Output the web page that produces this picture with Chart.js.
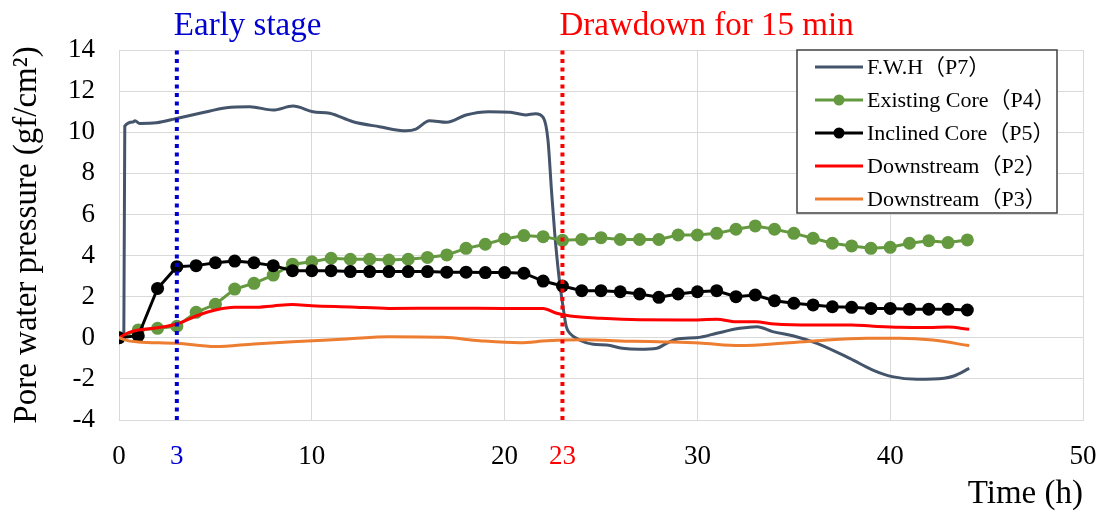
<!DOCTYPE html>
<html>
<head>
<meta charset="utf-8">
<script src="https://cdn.jsdelivr.net/npm/chart.js@4/dist/chart.umd.min.js"></script>
<style>
  html, body { margin: 0; padding: 0; background: #ffffff; }
  canvas { display: block; }
</style>
</head>
<body>
<canvas id="chart" width="1103" height="512"></canvas>
<script>
// Hourly piezometer readings in the cores (marker series)
const hours = [0, 1, 2, 3, 4, 5, 6, 7, 8, 9, 10, 11, 12, 13, 14, 15, 16, 17, 18, 19, 20, 21, 22,
  23, 24, 25, 26, 27, 28, 29, 30, 31, 32, 33, 34, 35, 36, 37, 38, 39, 40, 41, 42, 43, 44];
const existingCore = [0, 0.38, 0.46, 0.56, 1.24, 1.63, 2.37, 2.65, 3.05, 3.58, 3.7, 3.87, 3.82, 3.82, 3.78,
  3.82, 3.91, 4.03, 4.35, 4.55, 4.81, 4.97, 4.92, 4.74, 4.78, 4.87, 4.78, 4.78, 4.78, 5.0, 5.0, 5.08,
  5.28, 5.44, 5.28, 5.08, 4.84, 4.6, 4.47, 4.35, 4.4, 4.6, 4.72, 4.63, 4.76];
const inclinedCore = [0, 0.1, 2.4, 3.46, 3.51, 3.65, 3.73, 3.65, 3.51, 3.26, 3.26, 3.26, 3.22, 3.22, 3.22,
  3.22, 3.22, 3.19, 3.19, 3.17, 3.17, 3.14, 2.76, 2.52, 2.29, 2.29, 2.24, 2.13, 1.97, 2.13, 2.24, 2.29,
  2.0, 2.08, 1.8, 1.68, 1.6, 1.51, 1.48, 1.43, 1.43, 1.39, 1.39, 1.39, 1.35];

// Continuous logger traces: time (h) and pore water pressure (gf/cm²)
const fwhTime = [0, 0.25, 0.3, 0.73, 0.83, 1.07, 1.94, 2.98, 4.19, 5.57, 6.78, 7.99, 9.02, 10.06, 10.93,
  12.14, 13.5, 14.9, 15.4, 16.1, 17.0, 18.0, 19.2, 20.3, 21.1, 21.6, 22.0, 22.25, 22.43, 22.6, 22.82,
  23.03, 23.2, 23.4, 23.9, 24.6, 25.3, 26.1, 27.0, 27.9, 28.4, 28.9, 30.1, 31.0, 32.2, 33.1, 33.9,
  35.0, 36.2, 37.9, 39.1, 40.1, 41.4, 42.8, 43.3, 44.1];
const fwhValues = [0, 0.05, 10.3, 10.5, 10.56, 10.43, 10.46, 10.67, 10.92, 11.19, 11.24, 11.08, 11.27,
  11.0, 10.92, 10.51, 10.27, 10.07, 10.15, 10.56, 10.48, 10.84, 11.0, 10.97, 10.84, 10.9, 10.72, 9.62,
  7.19, 5.08, 2.97, 1.51, 0.54, 0.2, -0.11, -0.32, -0.35, -0.51, -0.56, -0.51, -0.27, -0.07, 0.02,
  0.22, 0.46, 0.54, 0.3, 0.09, -0.27, -1.0, -1.57, -1.89, -2.02, -1.97, -1.86, -1.49];

const p2Time = [0, 0.5, 1, 2, 3, 4, 5, 6, 7, 8, 9, 10, 12, 14, 17, 20, 22, 22.7, 23.4, 25, 27, 30, 31,
  32, 33, 34, 36, 38, 39, 40.5, 42, 43, 44.1];
const p2Values = [0, 0.25, 0.38, 0.49, 0.67, 1.06, 1.35, 1.48, 1.48, 1.55, 1.62, 1.56, 1.5, 1.43, 1.44,
  1.43, 1.42, 1.19, 1.06, 0.95, 0.88, 0.87, 0.9, 0.78, 0.78, 0.67, 0.62, 0.62, 0.57, 0.51, 0.5, 0.52, 0.41];

const p3Time = [0, 0.5, 1, 3, 5, 7, 9, 11.8, 14, 16.8, 18.7, 20.8, 22.2, 24, 26.7, 28.4, 30.1, 32.2,
  34.4, 36.2, 38.8, 40.5, 42.2, 44.1];
const p3Values = [0, -0.15, -0.2, -0.27, -0.43, -0.3, -0.19, -0.06, 0.05, 0.02, -0.14, -0.24, -0.15,
  -0.1, -0.17, -0.2, -0.25, -0.38, -0.27, -0.14, -0.02, -0.02, -0.11, -0.38];

const seriesNames = ['F.W.H（P7）', 'Existing Core（P4）', 'Inclined Core（P5）', 'Downstream（P2）', 'Downstream（P3）'];
const xTickValues = [0, 3, 10, 20, 23, 30, 40, 50];
const yTickRange = [-4, 14];
const yTickStep = 2;
const earlyStageHour = 3;
const drawdownHour = 23;
const earlyStageText = 'Early stage';
const drawdownText = 'Drawdown for 15 min';

const SERIF = '"Liberation Serif", "Times New Roman", "Noto Sans CJK JP", serif';
const BLUE = '#0000D0';
const RED = '#FF0000';
const GRID = '#D9D9D9';

const pairs = (xs, ys) => xs.map((x, i) => ({ x: x, y: ys[i] }));

// Legend panel in the upper right of the plot
const legendPanel = {
  id: 'legendPanel',
  afterDraw(chart) {
    const ctx = chart.ctx;
    const box = { x: 797, y: 50, w: 260, h: 163 };
    ctx.save();
    ctx.fillStyle = '#ffffff';
    ctx.fillRect(box.x, box.y, box.w, box.h);
    ctx.strokeStyle = '#404040';
    ctx.lineWidth = 1.5;
    ctx.strokeRect(box.x, box.y, box.w, box.h);
    ctx.font = '22px ' + SERIF;
    ctx.textBaseline = 'middle';
    ctx.textAlign = 'left';
    const rowY0 = 67, rowGap = 33;
    for (let i = 0; i < 5; i++) {
      const ds = chart.data.datasets[i];
      const y = rowY0 + i * rowGap;
      ctx.strokeStyle = ds.borderColor;
      ctx.lineWidth = 3;
      ctx.beginPath();
      ctx.moveTo(815, y);
      ctx.lineTo(863, y);
      ctx.stroke();
      if (ds.pointRadius > 0) {
        ctx.fillStyle = ds.backgroundColor;
        ctx.beginPath();
        ctx.arc(839, y, 5.5, 0, Math.PI * 2);
        ctx.fill();
      }
      ctx.fillStyle = '#000000';
      ctx.fillText(ds.label, 867, y + 1);
    }
    ctx.restore();
  }
};

// Stage captions above the dotted markers
const stageCaptions = {
  id: 'stageCaptions',
  afterDraw(chart) {
    const ctx = chart.ctx;
    const xs = chart.scales.x;
    ctx.save();
    ctx.font = '33px ' + SERIF;
    ctx.textBaseline = 'alphabetic';
    ctx.textAlign = 'left';
    ctx.fillStyle = BLUE;
    ctx.fillText(earlyStageText, xs.getPixelForValue(earlyStageHour) - 3, 35);
    ctx.fillStyle = RED;
    ctx.fillText(drawdownText, xs.getPixelForValue(drawdownHour) - 3, 35);
    ctx.restore();
  }
};

const markerLine = (hour, color) => ({
  label: '',
  data: [{ x: hour, y: yTickRange[0] }, { x: hour, y: yTickRange[1] }],
  borderColor: color,
  borderWidth: 4,
  borderDash: [4, 4.5],
  borderCapStyle: 'butt',
  pointRadius: 0,
  order: 0
});

new Chart(document.getElementById('chart'), {
  type: 'line',
  data: {
    datasets: [
      { label: seriesNames[0], data: pairs(fwhTime, fwhValues), borderColor: '#44546A', backgroundColor: '#44546A',
        borderWidth: 3, pointRadius: 0, cubicInterpolationMode: 'monotone', order: 5 },
      { label: seriesNames[1], data: pairs(hours, existingCore), borderColor: '#64993F', backgroundColor: '#64993F',
        borderWidth: 3, pointRadius: 6.5, pointBorderWidth: 0, pointBackgroundColor: '#64993F', tension: 0, order: 4 },
      { label: seriesNames[2], data: pairs(hours, inclinedCore), borderColor: '#000000', backgroundColor: '#000000',
        borderWidth: 3, pointRadius: 6.5, pointBorderWidth: 0, pointBackgroundColor: '#000000', tension: 0, order: 3 },
      { label: seriesNames[3], data: pairs(p2Time, p2Values), borderColor: '#FF0000', backgroundColor: '#FF0000',
        borderWidth: 3, pointRadius: 0, cubicInterpolationMode: 'monotone', order: 2 },
      { label: seriesNames[4], data: pairs(p3Time, p3Values), borderColor: '#ED7D31', backgroundColor: '#ED7D31',
        borderWidth: 3, pointRadius: 0, cubicInterpolationMode: 'monotone', order: 1 },
      markerLine(earlyStageHour, BLUE),
      markerLine(drawdownHour, RED)
    ]
  },
  options: {
    responsive: false,
    animation: false,
    devicePixelRatio: 1,
    layout: { padding: { top: 50, right: 20, left: 0, bottom: 0 } },
    plugins: { legend: { display: false }, tooltip: { enabled: false } },
    scales: {
      x: {
        type: 'linear',
        min: 0,
        max: 50,
        afterBuildTicks: (scale) => { scale.ticks = xTickValues.map(v => ({ value: v })); },
        afterFit: (scale) => {
          scale.height = 92;
          scale.paddingLeft = 0;
          scale.paddingRight = 0;
        },
        ticks: {
          autoSkip: false,
          maxRotation: 0,
          padding: 21,
          font: { family: SERIF, size: 27 },
          color: (c) => {
            const v = c.tick ? c.tick.value : null;
            return v === earlyStageHour ? BLUE : (v === drawdownHour ? RED : '#000000');
          }
        },
        grid: {
          drawTicks: false,
          lineWidth: 1,
          color: (c) => {
            const v = c.tick ? c.tick.value : null;
            return (v === earlyStageHour || v === drawdownHour) ? 'rgba(0,0,0,0)' : GRID;
          }
        },
        border: { color: GRID },
        title: {
          display: true,
          text: 'Time (h)',
          align: 'end',
          color: '#000000',
          font: { family: SERIF, size: 33, lineHeight: 1 },
          padding: { top: 0, bottom: 1 }
        }
      },
      y: {
        min: yTickRange[0],
        max: yTickRange[1],
        afterFit: (scale) => {
          scale.width = 119;
          scale.paddingTop = 0;
          scale.paddingBottom = 0;
        },
        ticks: { stepSize: yTickStep, padding: 24, color: '#000000', font: { family: SERIF, size: 27 } },
        grid: { drawTicks: false, color: GRID, lineWidth: 1 },
        border: { color: GRID },
        title: {
          display: true,
          text: 'Pore water pressure (gf/cm²)',
          color: '#000000',
          font: { family: SERIF, size: 33, lineHeight: 1 },
          padding: { top: 11, bottom: 0 }
        }
      }
    }
  },
  plugins: [legendPanel, stageCaptions]
});
</script>
</body>
</html>
